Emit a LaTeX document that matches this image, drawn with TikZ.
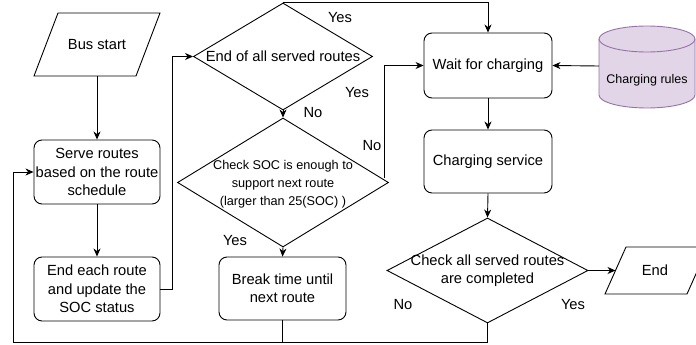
\documentclass[tikz,border=0pt]{standalone}
\usepackage{fontspec}
\setmainfont{Liberation Sans}
\usetikzlibrary{shapes.geometric,arrows.meta,calc}
\definecolor{rulefill}{HTML}{E1D5E7}
\definecolor{ruledraw}{HTML}{9673A6}
\begin{document}
\begin{tikzpicture}[x=1pt,y=-1pt,line width=0.9pt,
  font=\fontsize{14.7}{18.3}\selectfont,
  box/.style={draw,rounded corners=8pt,minimum width=126pt,minimum height=64pt,align=center,inner sep=0pt},
  dia/.style={draw,diamond,inner sep=0pt},
  txt/.style={align=center,inner sep=0pt},
  arr/.style={-{Stealth[length=8pt,width=7pt,inset=2.5pt]}}]
\useasboundingbox (0,0) rectangle (696,345);
\clip (0,0) rectangle (696,345);

% parallelograms
\draw (34,76) -- (58,13) -- (160,13) -- (136,76) -- cycle;
\node[txt,minimum width=80pt,minimum height=63pt] (start) at (97,44.5) {Bus start};
\draw (605,294) -- (626,247) -- (708,247) -- (687,294) -- cycle;
\node[txt] (endt) at (655,270.5) {End};
\coordinate (endW) at (615.5,270.5);

% boxes and decisions
\node[box] (serve) at (97,172) {Serve routes\\based on the route\\schedule};
\node[box] (endroute) at (97,289) {End each route\\and update the\\SOC status};
\node[dia,minimum width=179pt,minimum height=107pt] (d1) at (283,56.5) {\strut};
\node[txt] (d1t) at (d1) {End of all served routes};
\node[dia,minimum width=211pt,minimum height=129pt] (d2) at (283,182.5) {\strut};
\node[txt,font=\fontsize{12.7}{18.2}\selectfont] (d2t) at (283,184) {Check SOC is enough to\\support next route\\(larger than 25(SOC) )};
\node[box,minimum width=127pt,minimum height=63pt] (breakn) at (282.5,288.5) {Break time until\\next route};
\node[box,minimum width=128pt,minimum height=65pt] (wait) at (488,65.5) {Wait for charging};
\node[box,minimum width=128pt,minimum height=63pt] (service) at (488,161.5) {Charging service};
\node[dia,minimum width=201pt,minimum height=105pt] (d3) at (487.5,270.5) {\strut};
\node[txt] (d3t) at (487.5,271) {Check all served routes\\are completed};

% cylinder
\fill[rulefill] (599,39) rectangle (695,95);
\fill[rulefill] (647,95) ellipse [x radius=48,y radius=13];
\draw[ruledraw,fill=rulefill] (599,39) -- (599,95) arc[start angle=180,end angle=0,x radius=48,y radius=13] -- (695,39);
\draw[ruledraw,fill=rulefill] (647,39) ellipse [x radius=48,y radius=13];
\node[txt,font=\fontsize{12.5}{15}\selectfont] (rules) at (647,80) {Charging rules};
\coordinate (rulesL) at (599,66);

% connectors
\draw[arr] (start.south) -- (serve.north);
\draw[arr] (serve.south) -- (endroute.north);
\draw[arr] (endroute.east) -- ++(12,0) |- (d1.west);
\draw[arr] (d1.north) -| (wait.north);
\draw[arr] (d1.south) -- (d2.north);
\draw[arr] ([xshift=-5pt,yshift=5pt]d2.east) |- (wait.west);
\draw[arr] (rulesL) -- (wait.east);
\draw[arr] (wait.south) -- (service.north);
\draw[arr] (service.south) -- (d3.north);
\draw[arr] (d3.east) -- (endW);
\draw[arr] (d2.south) -- (breakn.north);
\coordinate (loopL) at (13,342);
\draw[arr] (breakn.south) |- (loopL) |- (serve.west);
\draw (d3.south) |- (breakn.south |- loopL);

% labels
\node[txt] (l1) at (340,18) {Yes};
\node[txt] (l2) at (357,93) {Yes};
\node[txt] (l3) at (313,113) {No};
\node[txt] (l4) at (372,146) {No};
\node[txt] (l5) at (235,241) {Yes};
\node[txt] (l6) at (403,305) {No};
\node[txt] (l7) at (573,305) {Yes};
\end{tikzpicture}
\end{document}
